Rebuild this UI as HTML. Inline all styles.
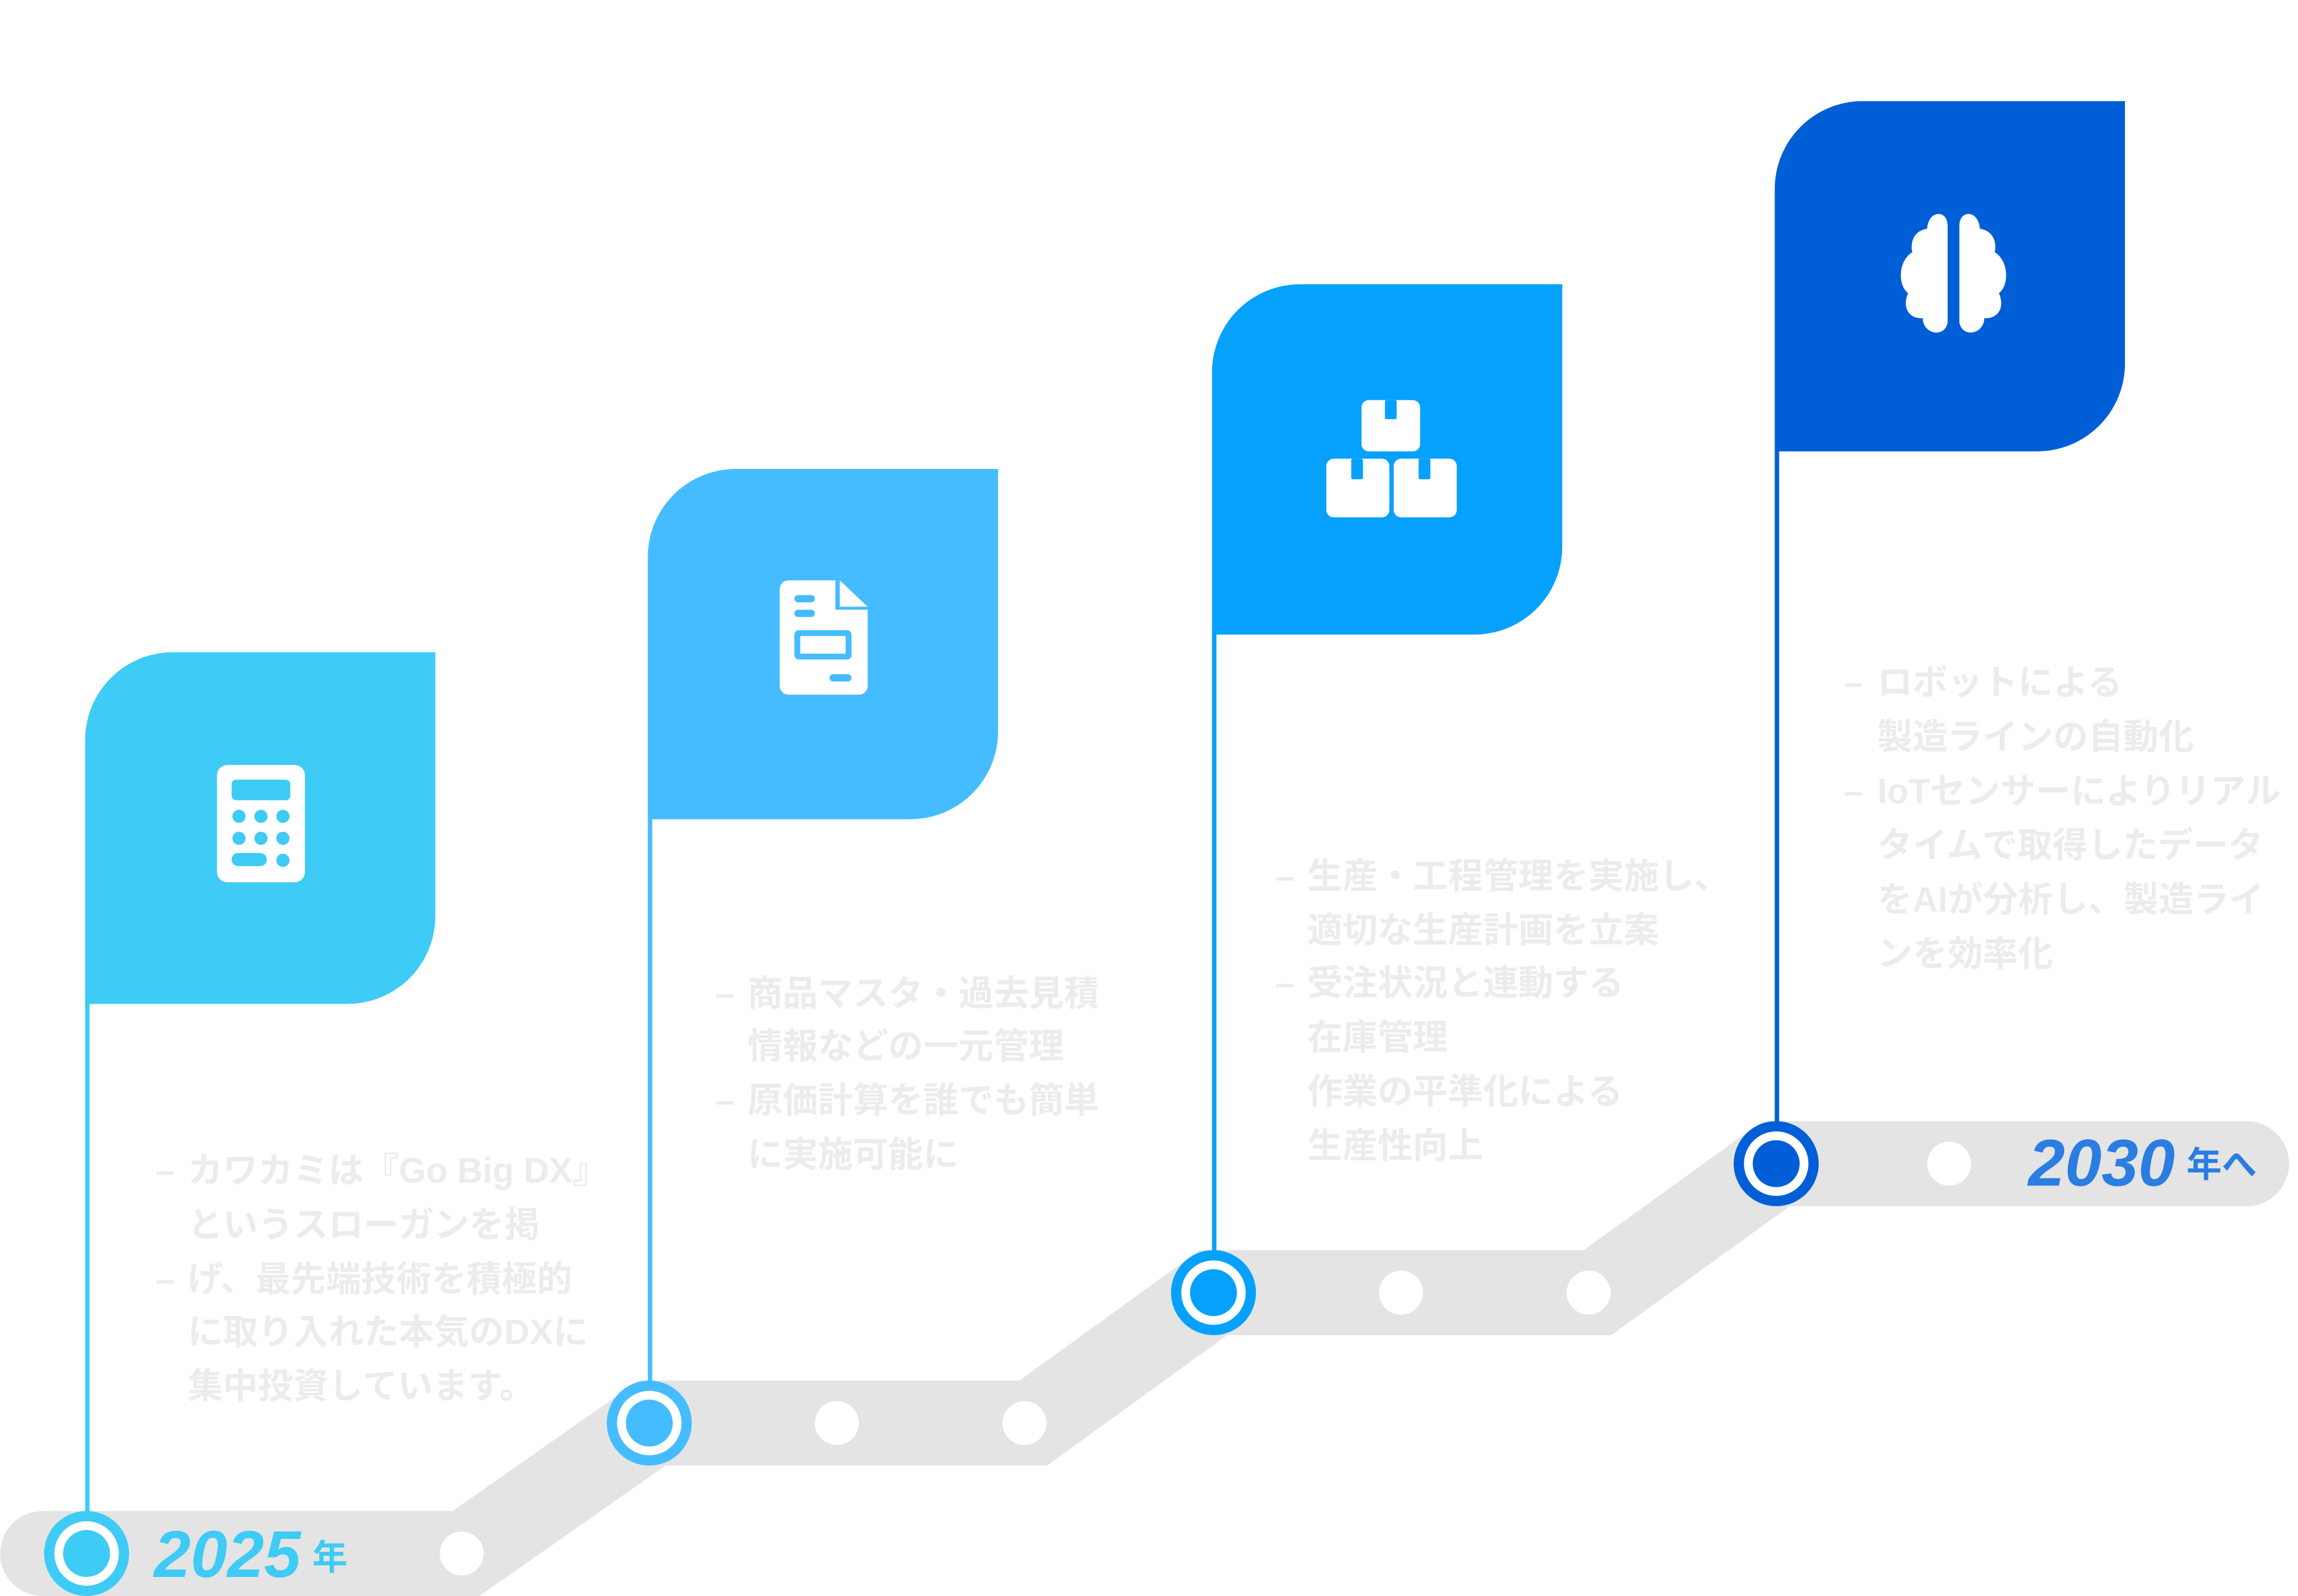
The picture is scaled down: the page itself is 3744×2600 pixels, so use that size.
<!DOCTYPE html>
<html><head><meta charset="utf-8"><style>
html,body{margin:0;padding:0;background:#fff;}
svg{display:block;}
.t{font-family:"Liberation Sans","Noto Sans CJK JP",sans-serif;font-size:24px;font-weight:bold;fill:#ececec;}
.y{font-family:"Liberation Sans",sans-serif;font-size:45px;font-weight:bold;font-style:italic;}
.k{font-family:"Liberation Sans","Noto Sans CJK JP",sans-serif;font-size:24px;font-weight:bold;}
</style></head><body>
<svg width="3744" height="2600" viewBox="0 0 1568 1089" xmlns="http://www.w3.org/2000/svg">
<rect width="1568" height="1089" fill="#fff"/>
<polyline points="29,1060 318,1060 445,971 705,971 828,882 1090,882 1212,794 1533,794" fill="none" stroke="#e4e4e4" stroke-width="58" stroke-linejoin="miter" stroke-linecap="round"/>
<rect x="58" y="680" width="3" height="355" fill="#3ecbf5"/>
<rect x="442" y="555" width="3" height="390" fill="#45bcff"/>
<rect x="827" y="430" width="3" height="428" fill="#06a0fd"/>
<rect x="1211" y="305" width="3" height="462" fill="#005ed6"/>
<path d="M118,445 H297 V625 A60 60 0 0 1 237,685 H58 V505 A60 60 0 0 1 118,445 Z" fill="#3ecbf5"/>
<path d="M502,320 H681 V499 A60 60 0 0 1 621,559 H442 V380 A60 60 0 0 1 502,320 Z" fill="#45bcff"/>
<path d="M887,194 H1066 V373 A60 60 0 0 1 1006,433 H827 V254 A60 60 0 0 1 887,194 Z" fill="#06a0fd"/>
<path d="M1271,69 H1450 V248 A60 60 0 0 1 1390,308 H1211 V129 A60 60 0 0 1 1271,69 Z" fill="#005ed6"/>
<rect x="148" y="522" width="60" height="80" rx="7" fill="#fff"/>
<rect x="158" y="532" width="40" height="14" rx="3" fill="#3ecbf5"/>
<g fill="#3ecbf5">
<circle cx="163" cy="557" r="4.5"/><circle cx="178" cy="557" r="4.5"/><circle cx="193" cy="557" r="4.5"/>
<circle cx="163" cy="572" r="4.5"/><circle cx="178" cy="572" r="4.5"/><circle cx="193" cy="572" r="4.5"/>
<rect x="158" y="582" width="24" height="9" rx="4.5"/><circle cx="193" cy="587" r="4.5"/>
</g>
<path d="M538,396 H570 V416 H592 V468 A6 6 0 0 1 586,474 H538 A6 6 0 0 1 532,468 V402 A6 6 0 0 1 538,396 Z" fill="#fff"/>
<path d="M573,396 L592,414 H573 Z" fill="#fff"/>
<g fill="#45bcff">
<rect x="542" y="406" width="14" height="5" rx="2.5"/><rect x="542" y="416" width="14" height="5" rx="2.5"/>
<rect x="542" y="430" width="39" height="20" rx="3"/>
<rect x="566" y="460" width="15" height="5" rx="2.5"/>
</g>
<rect x="546" y="434" width="31" height="12" fill="#fff"/>
<g fill="#fff">
<rect x="929" y="273" width="40" height="35" rx="5"/>
<rect x="905" y="313" width="43" height="40" rx="5"/>
<rect x="951" y="313" width="43" height="40" rx="5"/>
</g>
<g fill="#06a0fd">
<rect x="945" y="273" width="8" height="13" rx="1"/>
<rect x="922" y="313" width="8" height="14" rx="1"/>
<rect x="968" y="313" width="8" height="14" rx="1"/>
</g>
<g fill="#fff">
<path d="M1329,154 C1329,143 1316,143 1315,156 C1303,158 1304,170 1305,172 C1295,178 1295,195 1302,200 C1297,212 1305,218 1312,217 C1312,228 1327,231 1329,220 Z"/>
<path d="M1337,154 C1337,143 1350,143 1351,156 C1363,158 1362,170 1361,172 C1371,178 1371,195 1364,200 C1369,212 1361,218 1354,217 C1354,228 1339,231 1337,220 Z"/>
</g>
<g>
<circle cx="59" cy="1060" r="29" fill="#3ecbf5"/><circle cx="59" cy="1060" r="22" fill="#fff"/><circle cx="59" cy="1060" r="16" fill="#3ecbf5"/>
<circle cx="443" cy="971" r="29" fill="#45bcff"/><circle cx="443" cy="971" r="22" fill="#fff"/><circle cx="443" cy="971" r="16" fill="#45bcff"/>
<circle cx="828" cy="882" r="29" fill="#06a0fd"/><circle cx="828" cy="882" r="22" fill="#fff"/><circle cx="828" cy="882" r="16" fill="#06a0fd"/>
<circle cx="1212" cy="794" r="29" fill="#005ed6"/><circle cx="1212" cy="794" r="22" fill="#fff"/><circle cx="1212" cy="794" r="16" fill="#005ed6"/>
</g>
<g fill="#fff">
<circle cx="315" cy="1060" r="15"/><circle cx="571" cy="971" r="15"/><circle cx="699" cy="971" r="15"/>
<circle cx="956" cy="882" r="15"/><circle cx="1084" cy="882" r="15"/><circle cx="1330" cy="794" r="15"/>
</g>
<text x="105" y="1076" class="y" fill="#3ecbf5">2025</text>
<text x="213" y="1071" class="k" fill="#3ecbf5">年</text>
<text x="1384" y="809" class="y" fill="#2a7de1">2030</text>
<text x="1492" y="803" class="k" fill="#2a7de1">年へ</text>
<g class="t">
<text x="106" y="807">–</text><text x="128" y="807">カワカミは『Go Big DX』</text>
<text x="128" y="844">というスローガンを掲</text>
<text x="106" y="881">–</text><text x="128" y="881">げ、最先端技術を積極的</text>
<text x="128" y="917">に取り入れた本気のDXに</text>
<text x="128" y="954">集中投資しています。</text>
<text x="488" y="686">–</text><text x="510" y="686">商品マスタ・過去見積</text>
<text x="510" y="722">情報などの一元管理</text>
<text x="488" y="759">–</text><text x="510" y="759">原価計算を誰でも簡単</text>
<text x="510" y="796">に実施可能に</text>
<text x="870" y="606">–</text><text x="892" y="606">生産・工程管理を実施し、</text>
<text x="892" y="643">適切な生産計画を立案</text>
<text x="870" y="679">–</text><text x="892" y="679">受注状況と連動する</text>
<text x="892" y="716">在庫管理</text>
<text x="892" y="753">作業の平準化による</text>
<text x="892" y="790">生産性向上</text>
<text x="1258" y="474">–</text><text x="1281" y="474">ロボットによる</text>
<text x="1281" y="511">製造ラインの自動化</text>
<text x="1258" y="548">–</text><text x="1281" y="548">IoTセンサーによりリアル</text>
<text x="1281" y="585">タイムで取得したデータ</text>
<text x="1281" y="622">をAIが分析し、製造ライ</text>
<text x="1281" y="659">ンを効率化</text>
</g>
</svg>
</body></html>
